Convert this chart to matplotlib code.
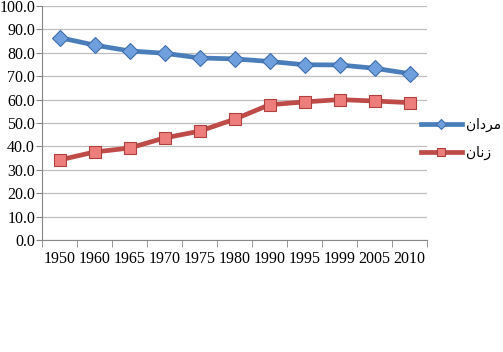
import matplotlib.pyplot as plt
import numpy as np

years = ['1950', '1960', '1965', '1970', '1975', '1980', '1990', '1995', '1999', '2005', '2010']
men = [86.5, 83.3, 80.8, 79.8, 77.8, 77.4, 76.3, 74.9, 74.8, 73.4, 71.1]
women = [34.2, 37.6, 39.3, 43.6, 46.5, 51.6, 57.8, 59.0, 60.0, 59.4, 58.7]
# Persian labels, written as presentation forms in visual order
men_label = '\ufee5\ufe8d\ufea9\ufeae\ufee3'    # مردان
women_label = '\ufee5\ufe8e\ufee7\ufeaf'        # زنان

fig = plt.figure(figsize=(5.03, 3.52), dpi=100)
ax = fig.add_axes([42 / 503, 1 - 240 / 352, 385 / 503, 234 / 352])

x = np.arange(len(years))
ax.plot(x, men, color='#4A7EBB', linewidth=3.4, marker='D', markersize=8.5,
        markerfacecolor='#6F9FDC', markeredgecolor='#3E6DAA', markeredgewidth=0.8,
        label=men_label)
ax.plot(x, women, color='#BE4B48', linewidth=3.4, marker='s', markersize=9,
        markerfacecolor='#EE7E7B', markeredgecolor='#B0403D', markeredgewidth=0.8,
        label=women_label)

ax.set_xlim(-0.5, len(years) - 0.5)
ax.set_ylim(0, 100)
ax.set_yticks(np.arange(0, 101, 10))
ax.set_yticklabels(['%.1f' % v for v in np.arange(0, 101, 10)])
ax.set_xticks(x)
ax.set_xticklabels(years)
ax.set_xticks(np.arange(-0.5, len(years), 1), minor=True)
ax.tick_params(axis='x', which='major', length=0, pad=8)
ax.tick_params(axis='x', which='minor', length=5, color='#868686')
ax.tick_params(axis='y', length=4, color='#868686', pad=1)
for lab in ax.get_xticklabels() + ax.get_yticklabels():
    lab.set_fontfamily('Liberation Serif')
    lab.set_fontsize(11.5)

ax.grid(axis='y', color='#BEBEBE', linewidth=0.9)
ax.set_axisbelow(True)
for s in ['top', 'right']:
    ax.spines[s].set_visible(False)
ax.spines['left'].set_color('#868686')
ax.spines['bottom'].set_color('#868686')

ax.legend(loc='upper left', bbox_to_anchor=(366 / 385, 0.575), frameon=False,
          prop={'family': 'DejaVu Sans', 'size': 10},
          handlelength=3.0, handletextpad=0.3, labelspacing=1.0, markerscale=0.6)

fig.savefig('out.png')
